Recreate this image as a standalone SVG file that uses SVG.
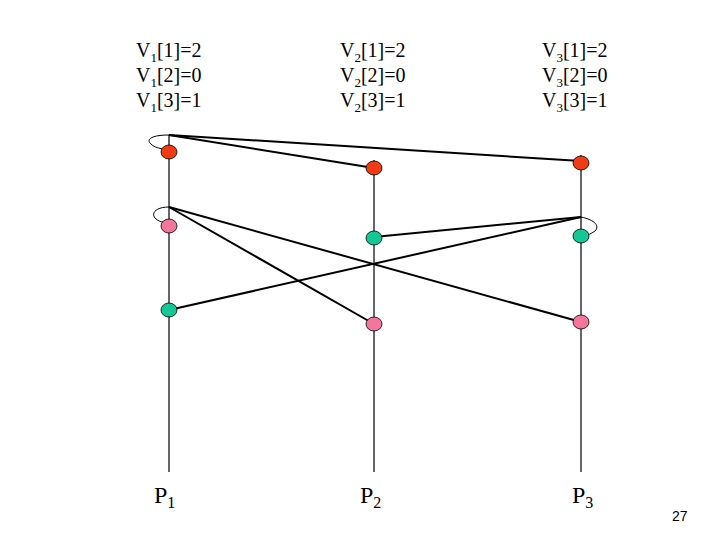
<svg xmlns="http://www.w3.org/2000/svg" width="720" height="540" viewBox="0 0 720 540">
<style>
.t{font-family:"Liberation Serif",serif;font-size:20px;fill:#000}
.s{font-size:13px}
.p{font-family:"Liberation Serif",serif;font-size:24px;fill:#000}
.ps{font-size:16px}
.axis{stroke:#000;stroke-width:1.2;fill:none}
.msg{stroke:#000;stroke-width:2;fill:none}
.loop{stroke:#000;stroke-width:1;fill:none}
.red{fill:#f03c14;stroke:#000;stroke-width:0.8}
.pink{fill:#f4769c;stroke:#000;stroke-width:0.8}
.green{fill:#14c896;stroke:#000;stroke-width:0.8}
</style>
<rect width="720" height="540" fill="#fff"/>
<g id="labels">
<text class="t" x="136" y="57">V<tspan class="s" dy="5">1</tspan><tspan dy="-5">[1]=2</tspan></text>
<text class="t" x="136" y="82">V<tspan class="s" dy="5">1</tspan><tspan dy="-5">[2]=0</tspan></text>
<text class="t" x="136" y="107">V<tspan class="s" dy="5">1</tspan><tspan dy="-5">[3]=1</tspan></text>
<text class="t" x="340" y="57">V<tspan class="s" dy="5">2</tspan><tspan dy="-5">[1]=2</tspan></text>
<text class="t" x="340" y="82">V<tspan class="s" dy="5">2</tspan><tspan dy="-5">[2]=0</tspan></text>
<text class="t" x="340" y="107">V<tspan class="s" dy="5">2</tspan><tspan dy="-5">[3]=1</tspan></text>
<text class="t" x="542" y="57">V<tspan class="s" dy="5">3</tspan><tspan dy="-5">[1]=2</tspan></text>
<text class="t" x="542" y="82">V<tspan class="s" dy="5">3</tspan><tspan dy="-5">[2]=0</tspan></text>
<text class="t" x="542" y="107">V<tspan class="s" dy="5">3</tspan><tspan dy="-5">[3]=1</tspan></text>
<text class="p" x="154" y="503">P<tspan class="ps" dy="5">1</tspan></text>
<text class="p" x="360" y="503">P<tspan class="ps" dy="5">2</tspan></text>
<text class="p" x="572" y="503">P<tspan class="ps" dy="5">3</tspan></text>
<text x="672" y="521" font-family="Liberation Sans,sans-serif" font-size="14">27</text>
</g>
<g id="axes">
<line class="axis" x1="169" y1="135" x2="169" y2="472"/>
<line class="axis" x1="374" y1="160" x2="374" y2="472"/>
<line class="axis" x1="581" y1="155" x2="581" y2="472"/>
</g>
<g id="connectors">
<line class="msg" x1="169" y1="135" x2="374" y2="168"/>
<line class="msg" x1="169" y1="135" x2="581" y2="161"/>
<line class="msg" x1="169" y1="207" x2="374" y2="324"/>
<line class="msg" x1="169" y1="207" x2="581" y2="322"/>
<line class="msg" x1="374" y1="237" x2="581" y2="217"/>
<line class="msg" x1="581" y1="217" x2="169" y2="310"/>
<path class="loop" d="M169,135 C150,135 146,140 151,144 C155,148 160,148 162,149"/>
<path class="loop" d="M169,207 C156,207 151,213 155,218 C158,221 161,222 163,222"/>
<path class="loop" d="M581,217 C595,220 600,226 595,231 C592,233 590,234 588,235"/>
</g>
<g id="p1-e1"><ellipse class="red" cx="169" cy="152" rx="8" ry="7"/></g>
<g id="p1-e2"><ellipse class="pink" cx="169" cy="226" rx="8" ry="7"/></g>
<g id="p1-e3"><ellipse class="green" cx="169" cy="310" rx="8" ry="7"/></g>
<g id="p2-e1"><ellipse class="red" cx="374" cy="168" rx="8" ry="7"/></g>
<g id="p2-e2"><ellipse class="green" cx="374" cy="238" rx="8" ry="7"/></g>
<g id="p2-e3"><ellipse class="pink" cx="374" cy="324" rx="8" ry="7"/></g>
<g id="p3-e1"><ellipse class="red" cx="581" cy="163" rx="8" ry="7"/></g>
<g id="p3-e2"><ellipse class="green" cx="581" cy="236" rx="8" ry="7"/></g>
<g id="p3-e3"><ellipse class="pink" cx="581" cy="322" rx="8" ry="7"/></g>
</svg>
